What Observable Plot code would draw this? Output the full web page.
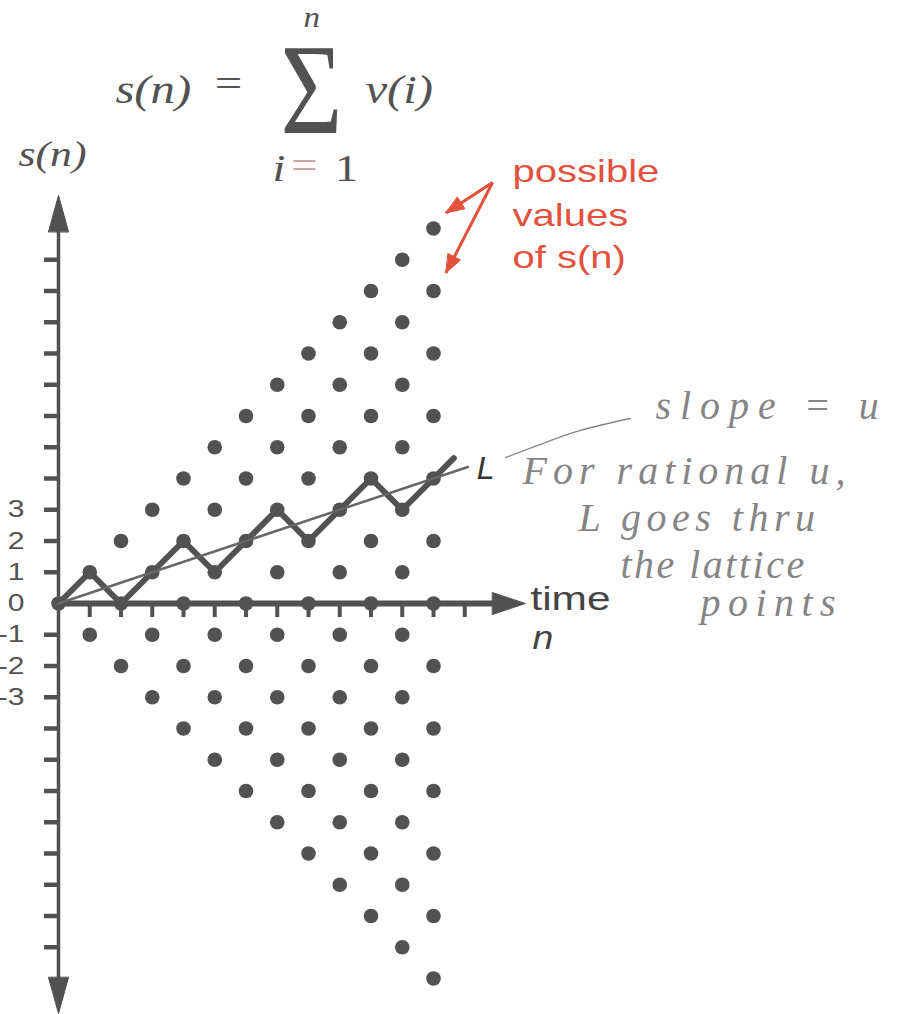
<!DOCTYPE html>
<html>
<head>
<meta charset="utf-8">
<script src="https://cdn.jsdelivr.net/npm/d3@7"></script>
<script src="https://cdn.jsdelivr.net/npm/@observablehq/plot@0.6"></script>
<style>
  body { margin: 0; background: #fff; }
</style>
</head>
<body>
<div id="chart"></div>
<script>
// Time steps n of the walk
const times = [0, 1, 2, 3, 4, 5, 6, 7, 8, 9, 10, 11, 12];
// Increments v(i), i = 1..12, of the sample walk drawn in bold
const increments = [1, -1, 1, 1, -1, 1, 1, -1, 1, 1, -1, 1];
// The bold walk runs a short way past n = 12
const tailFraction = 0.65;
// Line L: slope u through the origin, drawn out to n = lineEnd
const slopeU = 1 / 3;
const lineEnd = 13.1;
// Axis ticks
const xTicks = [1, 2, 3, 4, 5, 6, 7, 8, 9, 10, 11, 12, 13];
const yTicks = [-11, -10, -9, -8, -7, -6, -5, -4, -3, -2, -1, 1, 2, 3, 4, 5, 6, 7, 8, 9, 10, 11];
const yLabelValues = [3, 2, 1, 0, -1, -2, -3];
const yLabelTexts = ["3", "2", "1", "0", "-1", "-2", "-3"];
// Red caption lines
const captionLines = ["possible", "values", "of s(n)"];
// Pencil note lines and their letter spacing (px)
const noteLines = ["slope = u", "For rational u,", "L goes thru", "the lattice", "points"];
const noteSpacing = [9, 6, 5.5, 2.5, 7.5];

const ink = "#525252";
const red = "#e2513d";
const pencil = "#858585";

// Every reachable point: s(n) has the parity of n and |s(n)| <= n
const lattice = times.flatMap(n => d3.range(-n, n + 1, 2).map(s => ({n, s})));

// Partial sums s(n) = v(1) + ... + v(n)
const walk = [{n: 0, s: 0}];
increments.forEach((v, i) => walk.push({n: i + 1, s: walk[i].s + v}));
const last = walk[walk.length - 1];
walk.push({n: last.n + tailFraction, s: last.s + tailFraction});

const lineL = [{n: 0, s: 0}, {n: lineEnd, s: slopeU * lineEnd}];

// Filled arrowheads at the ends of the axes
const heads = [
  {k: "up", n: -0.32, s: 11.9}, {k: "up", n: 0, s: 13.06}, {k: "up", n: 0.32, s: 11.9},
  {k: "down", n: -0.32, s: -11.97}, {k: "down", n: 0, s: -13.12}, {k: "down", n: 0.32, s: -11.97},
  {k: "right", n: 13.89, s: 0.35}, {k: "right", n: 14.94, s: 0}, {k: "right", n: 13.89, s: -0.35}
];

// Red pointers from the caption to the outermost values
const pointers = [
  {x1: 13.89, y1: 13.47, x2: 12.4, y2: 12.5},
  {x1: 13.89, y1: 13.47, x2: 12.4, y2: 10.58}
];
// Solid triangular heads for the pointers (x and y share the same unit length)
const headLen = 0.58, headHalf = 0.22;
const pointerHeads = pointers.flatMap((p, i) => {
  const dx = p.x2 - p.x1, dy = p.y2 - p.y1, len = Math.hypot(dx, dy);
  const ux = dx / len, uy = dy / len;
  const bx = p.x2 - ux * headLen, by = p.y2 - uy * headLen;
  return [
    {k: i, n: p.x2, s: p.y2},
    {k: i, n: bx - uy * headHalf, s: by + ux * headHalf},
    {k: i, n: bx + uy * headHalf, s: by - ux * headHalf}
  ];
});

// Pencil stroke joining L to the slope note
const pencilStroke = [
  {n: 14.3, s: 4.67}, {n: 15.42, s: 5.09}, {n: 16.7, s: 5.54}, {n: 18.3, s: 5.92}
];

const noteStarts = [19.1, 14.85, 16.64, 17.98, 20.54];
const noteRows = [6.3, 4.22, 2.72, 1.22, 0.02];
const captionRows = [13.82, 12.4, 11.05];

function label(text, n, s, opts) {
  return Plot.text([text], {x: () => n, y: () => s, text: d => d, ...opts});
}

const serif = "Liberation Serif";
const sans = "Liberation Sans";

const chart = Plot.plot({
  width: 913,
  height: 1014,
  margin: 0,
  x: {domain: [0, 12], range: [58, 433], axis: null},
  y: {domain: [0, 12], range: [603, 228], axis: null},
  marks: [
    // axes
    Plot.ruleX([0], {y1: () => -12, y2: () => 12, stroke: ink, strokeWidth: 3.5}),
    Plot.ruleY([0], {x1: () => 0, x2: () => 14, stroke: ink, strokeWidth: 6}),
    Plot.ruleX(xTicks, {y1: () => 0, y2: () => -0.45, stroke: ink, strokeWidth: 4}),
    Plot.ruleY(yTicks, {x1: () => -0.45, x2: () => 0, stroke: ink, strokeWidth: 4.5}),
    Plot.line(heads, {x: "n", y: "s", z: "k", fill: ink, stroke: ink, strokeWidth: 1, curve: "linear-closed"}),
    // lattice of possible values
    Plot.dot(lattice, {x: "n", y: "s", r: 7.3, fill: ink}),
    // sample walk and line L
    Plot.line(walk, {x: "n", y: "s", stroke: ink, strokeWidth: 6, strokeLinejoin: "round"}),
    Plot.line(lineL, {x: "n", y: "s", stroke: "#666", strokeWidth: 2.5}),
    // y tick labels
    Plot.text(yLabelValues, {x: () => -1.088, y: d => d, text: (d, i) => yLabelTexts[i],
      textAnchor: "end", fontSize: 24, fontFamily: sans, fill: ink}),
    // formula
    label("s(n)", 1.82, 16.42, {textAnchor: "start", fontSize: 39, fontFamily: serif, fontStyle: "italic", fill: ink}),
    label("=", 5.0, 16.6, {textAnchor: "start", fontSize: 39, fontFamily: serif, fill: ink}),
    label("\u03A3", 8.1, 16.38, {fontSize: 130, fontFamily: serif, fill: ink}),
    label("v(i)", 9.82, 16.42, {textAnchor: "start", fontSize: 39, fontFamily: serif, fontStyle: "italic", fill: ink}),
    label("n", 8.1, 18.77, {fontSize: 30, fontFamily: serif, fontStyle: "italic", fill: ink}),
    label("i", 6.85, 13.89, {textAnchor: "start", fontSize: 37, fontFamily: serif, fontStyle: "italic", fill: ink}),
    label("=", 7.45, 14.0, {textAnchor: "start", fontSize: 37, fontFamily: serif, fill: "#c4a8a8"}),
    label("1", 8.85, 13.89, {textAnchor: "start", fontSize: 37, fontFamily: serif, fill: ink}),
    // axis titles
    label("s(n)", -1.28, 14.37, {textAnchor: "start", fontSize: 35, fontFamily: serif, fontStyle: "italic", fill: ink}),
    label("time", 15.1, 0.15, {textAnchor: "start", fontSize: 34, fontFamily: sans, fill: "#444"}),
    label("n", 15.17, -1.12, {textAnchor: "start", fontSize: 34, fontFamily: sans, fontStyle: "italic", fill: "#444"}),
    label("L", 13.38, 4.32, {textAnchor: "start", fontSize: 32, fontFamily: sans, fontStyle: "italic", fill: "#333"}),
    // red caption and pointers
    Plot.text(captionLines, {x: () => 14.53, y: (d, i) => captionRows[i], text: d => d,
      textAnchor: "start", fontSize: 32, fontFamily: sans, fill: red}),
    Plot.link(pointers, {x1: "x1", y1: "y1", x2: "x2", y2: "y2", stroke: red, strokeWidth: 3}),
    Plot.line(pointerHeads, {x: "n", y: "s", z: "k", fill: red, stroke: red, strokeWidth: 1, curve: "linear-closed"}),
    // pencil notes
    Plot.line(pencilStroke, {x: "n", y: "s", curve: "natural", stroke: pencil, strokeWidth: 1.3}),
    Plot.text(noteLines, {x: (d, i) => noteStarts[i], y: (d, i) => noteRows[i], text: d => d,
      textAnchor: "start", fontSize: 40, fontFamily: serif, fontStyle: "italic", fill: pencil})
  ]
});

// Printed lettering is set wide; the summation sign is narrower
const stretch = {"\u03A3": 0.82, "L": 1, "n": 1.1};
d3.select(chart).selectAll("text").each(function () {
  const t = this.textContent;
  const k = noteLines.indexOf(t);
  if (k >= 0) {
    this.style.letterSpacing = noteSpacing[k] + "px";
    return;
  }
  const sx = t in stretch ? stretch[t] : 1.25;
  const tr = this.getAttribute("transform");
  if (tr) {
    this.setAttribute("transform", `${tr} scale(${sx},1)`);
  } else {
    const x = +this.getAttribute("x") || 0, y = +this.getAttribute("y") || 0;
    this.setAttribute("transform", `translate(${x},${y}) scale(${sx},1) translate(${-x},${-y})`);
  }
});

document.getElementById("chart").appendChild(chart);
</script>
</body>
</html>
